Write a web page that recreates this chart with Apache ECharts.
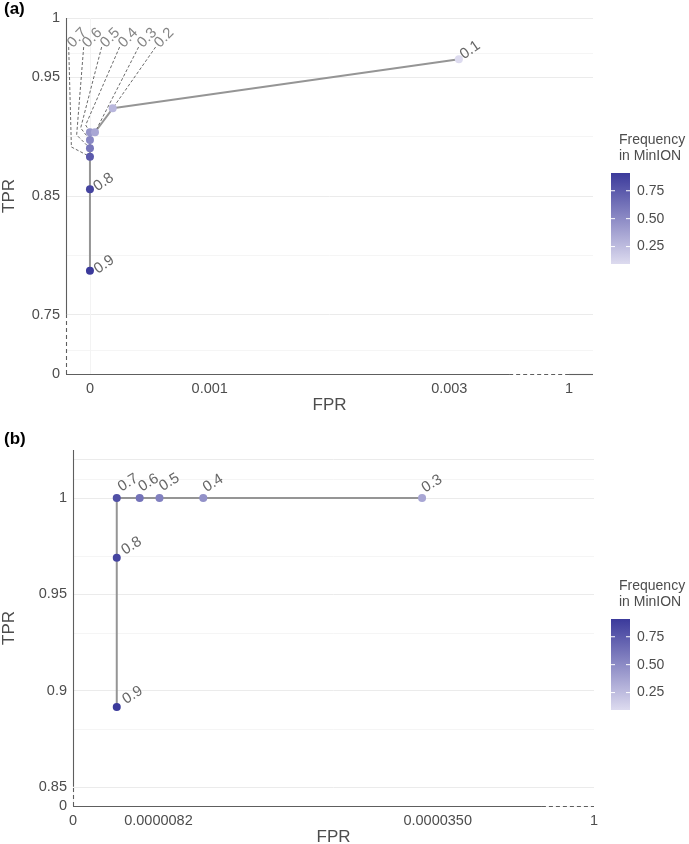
<!DOCTYPE html>
<html>
<head>
<meta charset="utf-8">
<script src="https://cdn.jsdelivr.net/npm/echarts@6/dist/echarts.min.js"></script>
<style>
html, body { margin: 0; padding: 0; background: #fff; }
#chart { width: 689px; height: 844px; }
</style>
</head>
<body>
<div id="chart"></div>
<script>
// ROC points, panel (a)
var thrA = ['0.9', '0.8', '0.7', '0.6', '0.5', '0.4', '0.3', '0.2', '0.1'];
var fprA = [0, 0, 0, 0, 0, 0, 0.000042, 0.00019, 0.00308];
var tprA = [0.787, 0.8556, 0.8831, 0.8902, 0.8972, 0.9037, 0.9037, 0.9239, 0.9652];
var freqA = [0.909, 0.86, 0.75, 0.6, 0.52, 0.45, 0.36, 0.28, 0.094];

// ROC points, panel (b)
var thrB = ['0.9', '0.8', '0.7', '0.6', '0.5', '0.4', '0.3'];
var fprB = [0.0000042, 0.0000042, 0.0000042, 0.0000064, 0.0000083, 0.0000125, 0.0000335];
var tprB = [0.8914, 0.969, 1, 1, 1, 1, 1];
var freqB = [0.909, 0.86, 0.8, 0.62, 0.55, 0.47, 0.36];

// axis breaks
var xTicksA = [0, 0.001, 0.003, 1];
var yTicksA = [0, 0.75, 0.85, 0.95, 1];
var xTicksB = [0, 0.0000082, 0.0000350, 1];
var xLabelsB = ['0', '0.0000082', '0.0000350', '1'];
var yTicksB = [0, 0.85, 0.9, 0.95, 1];
var legendTicks = [0.25, 0.5, 0.75];

// broken axes: "0" and "1" are squeezed next to the zoomed range
function sxA(v) { return v >= 0.5 ? 0.004 : v; }
function syA(v) { return v < 0.5 ? 0.70 : v; }
function sxB(v) { return v >= 0.5 ? 0.00005 : v; }
function syB(v) { return v < 0.5 ? 0.84 : v; }

var lo = Math.min.apply(null, freqA.concat(freqB));
var hi = Math.max.apply(null, freqA.concat(freqB));
var colLow = '#DDDBEF', colHigh = '#3B3A9B';

// label nudges (px) and repelled labels of panel (a)
var nudgeA = {'0.9': [10, 6], '0.8': [9.5, 5], '0.1': [7, 3]};
var nudgeB = {'0.9': [11, 0], '0.8': [10, 0], '0.7': [6.5, -3.5], '0.6': [4, -3.5], '0.5': [5, -4], '0.4': [5, -3], '0.3': [5, -2.5]};
var repelFoot = {'0.7': [-0.0001775, 0.9755], '0.6': [-0.0000525, 0.9755], '0.5': [0.0000975, 0.9755],
                 '0.4': [0.0002475, 0.9755], '0.3': [0.000406, 0.9755], '0.2': [0.000548, 0.9755]};
var repelElbow = {'0.7': [-0.000155, 0.8913], '0.6': [-0.000111, 0.9014], '0.5': [-0.0000775, 0.9073],
                  '0.4': [-0.0000358, 0.9098]};

var txt = '#4D4D4D';
var font = "'Liberation Sans', Arial, sans-serif";

function tickLabel(values, labels, fn) {
    return function (v) {
        for (var i = 0; i < values.length; i++) {
            if (Math.abs(fn(values[i]) - v) < 1e-9) return labels ? labels[i] : String(values[i]);
        }
        return '';
    };
}

function gridMarks(xMaj, xMin, yMaj, yMin) {
    var d = [];
    xMaj.forEach(function (v) { d.push({xAxis: v}); });
    yMaj.forEach(function (v) { d.push({yAxis: v}); });
    xMin.forEach(function (v) { d.push({xAxis: v, lineStyle: {color: '#F2F2F2', width: 0.8}}); });
    yMin.forEach(function (v) { d.push({yAxis: v, lineStyle: {color: '#F2F2F2', width: 0.8}}); });
    return {
        silent: true, z: 0, symbol: ['none', 'none'], label: {show: false}, animation: false,
        lineStyle: {color: '#EBEBEB', width: 1, type: 'solid'}, emphasis: {disabled: true},
        data: d
    };
}

function axisMarks(pieces) {
    return {
        silent: true, z: 3, symbol: ['none', 'none'], label: {show: false}, animation: false,
        lineStyle: {color: '#5E5E5E', width: 1.1, type: 'solid'}, emphasis: {disabled: true},
        data: pieces.map(function (p) {
            return [{coord: p[0], lineStyle: {type: p[2] ? [4, 3] : 'solid'}}, {coord: p[1]}];
        })
    };
}

function points(thr, fpr, tpr, freq, sx, sy, nudge) {
    return thr.map(function (t, i) {
        var n = nudge[t];
        return {
            name: t,
            value: [sx(fpr[i]), sy(tpr[i]), freq[i]],
            label: n ? {show: true, position: [4 + n[0], 4 + n[1]]} : {show: false}
        };
    });
}

var series = [];
function addPanel(k, thr, fpr, tpr, freq, sx, sy, nudge, rot, grid, axes) {
    series.push({type: 'line', xAxisIndex: k, yAxisIndex: k, data: [], z: 0,
        markLine: gridMarks(grid[0], grid[1], grid[2], grid[3])});
    series.push({type: 'line', xAxisIndex: k, yAxisIndex: k, z: 2, symbol: 'none', silent: true,
        lineStyle: {color: '#959595', width: 2},
        data: thr.map(function (t, i) { return [sx(fpr[i]), sy(tpr[i])]; })});
    series.push({type: 'line', xAxisIndex: k, yAxisIndex: k, data: [], z: 3, markLine: axisMarks(axes)});
    series.push({type: 'scatter', name: 'pts' + k, xAxisIndex: k, yAxisIndex: k, z: 5, symbolSize: 8,
        itemStyle: {opacity: 1},
        label: {formatter: '{b}', align: 'left', verticalAlign: 'bottom', rotate: rot,
            color: '#666', fontSize: 15, fontFamily: font},
        emphasis: {disabled: true},
        data: points(thr, fpr, tpr, freq, sx, sy, nudge)});
}

addPanel(0, thrA, fprA, tprA, freqA, sxA, syA, nudgeA, 35,
    [[0, 0.001, 0.003, 0.004], [0.0005, 0.002, 0.0035], [0.75, 0.85, 0.95, 1], [0.725, 0.8, 0.9, 0.975]],
    [[[-0.0002, 0.75], [-0.0002, 1], 0], [[-0.0002, 0.70], [-0.0002, 0.75], 1],
     [[-0.0002, 0.70], [0.0035, 0.70], 0], [[0.0035, 0.70], [0.004, 0.70], 1], [[0.004, 0.70], [0.0042, 0.70], 0]]);
addPanel(1, thrB, fprB, tprB, freqB, sxB, syB, nudgeB, 32,
    [[0, 0.0000082, 0.000035, 0.00005], [0.0000041, 0.0000216, 0.0000425], [0.85, 0.9, 0.95, 1, 1.025], [0.845, 0.875, 0.925, 0.975, 1.0125]],
    [[[0, 0.85], [0, 1.025], 0], [[0, 0.84], [0, 0.85], 1],
     [[0, 0.84], [0.000045, 0.84], 0], [[0.000045, 0.84], [0.00005, 0.84], 1]]);

// repelled labels of panel (a) with dashed leaders
Object.keys(repelFoot).forEach(function (t) {
    var i = thrA.indexOf(t);
    var path = [repelFoot[t]];
    if (repelElbow[t]) path.push(repelElbow[t]);
    path.push([sxA(fprA[i]), syA(tprA[i])]);
    series.push({type: 'line', xAxisIndex: 0, yAxisIndex: 0, z: 4, symbol: 'none', silent: true,
        lineStyle: {color: '#444', width: 0.8, type: [3, 2]}, data: path});
});
series.push({type: 'scatter', xAxisIndex: 0, yAxisIndex: 0, z: 6, symbolSize: 1, silent: true,
    itemStyle: {color: 'rgba(0,0,0,0)'},
    label: {show: true, formatter: '{b}', position: [7, 4], align: 'left', verticalAlign: 'bottom',
        rotate: 45, color: '#666', fontSize: 15, fontFamily: font},
    data: Object.keys(repelFoot).map(function (t) { return {name: t, value: repelFoot[t]}; })});

function valueAxis(k, min, max, ticks, labels, fn, isX, name, gap) {
    return {
        type: 'value', gridIndex: k, min: min, max: max, name: name, nameLocation: 'middle',
        nameGap: gap, nameTextStyle: {color: txt, fontSize: 17, fontFamily: font},
        axisLine: {show: false}, axisTick: {show: false}, splitLine: {show: false},
        axisLabel: {color: txt, fontSize: 14.5, fontFamily: font, margin: isX ? 7 : 6,
            customValues: ticks.map(fn), formatter: tickLabel(ticks, labels, fn)}
    };
}

function legendGraphic(top) {
    var bx = 611, by = top + 41, bw = 19, bh = 91;
    var g = [
        {type: 'text', left: 619, top: top, style: {text: 'Frequency\nin MinION', fill: txt,
            font: '14px ' + font, lineHeight: 16}},
        {type: 'rect', shape: {x: bx, y: by, width: bw, height: bh},
            style: {fill: new echarts.graphic.LinearGradient(0, 0, 0, 1,
                [{offset: 0, color: colHigh}, {offset: 1, color: colLow}])}}
    ];
    legendTicks.forEach(function (v) {
        var y = by + (hi - v) / (hi - lo) * bh;
        g.push({type: 'line', shape: {x1: bx, y1: y, x2: bx + 4, y2: y}, style: {stroke: '#fff', lineWidth: 1}});
        g.push({type: 'line', shape: {x1: bx + bw - 4, y1: y, x2: bx + bw, y2: y}, style: {stroke: '#fff', lineWidth: 1}});
        g.push({type: 'text', x: 637, y: y, style: {text: v.toFixed(2), fill: txt, font: '14px ' + font,
            verticalAlign: 'middle'}});
    });
    return g;
}

var chart = echarts.init(document.getElementById('chart'), null, {renderer: 'canvas'});
chart.setOption({
    animation: false,
    textStyle: {fontFamily: font},
    grid: [
        {left: 66, right: 96, top: 18, bottom: 470, outerBoundsMode: 'none', containLabel: false},
        {left: 73, right: 95, top: 450, bottom: 38, outerBoundsMode: 'none', containLabel: false}
    ],
    xAxis: [
        valueAxis(0, -0.0002, 0.0042, xTicksA, null, sxA, true, 'FPR', 23),
        valueAxis(1, 0, 0.00005, xTicksB, xLabelsB, sxB, true, 'FPR', 23)
    ],
    yAxis: [
        valueAxis(0, 0.70, 1, yTicksA, null, syA, false, 'TPR', 48),
        valueAxis(1, 0.84, 1.025, yTicksB, null, syB, false, 'TPR', 55)
    ],
    visualMap: [{
        type: 'continuous', show: false, min: lo, max: hi, dimension: 2,
        seriesIndex: [3, 7], inRange: {color: [colLow, colHigh]}
    }],
    graphic: [
        {type: 'text', left: 4, top: 1, style: {text: '(a)', fill: '#000', font: 'bold 17px ' + font}},
        {type: 'text', left: 4, top: 431, style: {text: '(b)', fill: '#000', font: 'bold 17px ' + font}}
    ].concat(legendGraphic(132), legendGraphic(578)),
    series: series
});
</script>
</body>
</html>
